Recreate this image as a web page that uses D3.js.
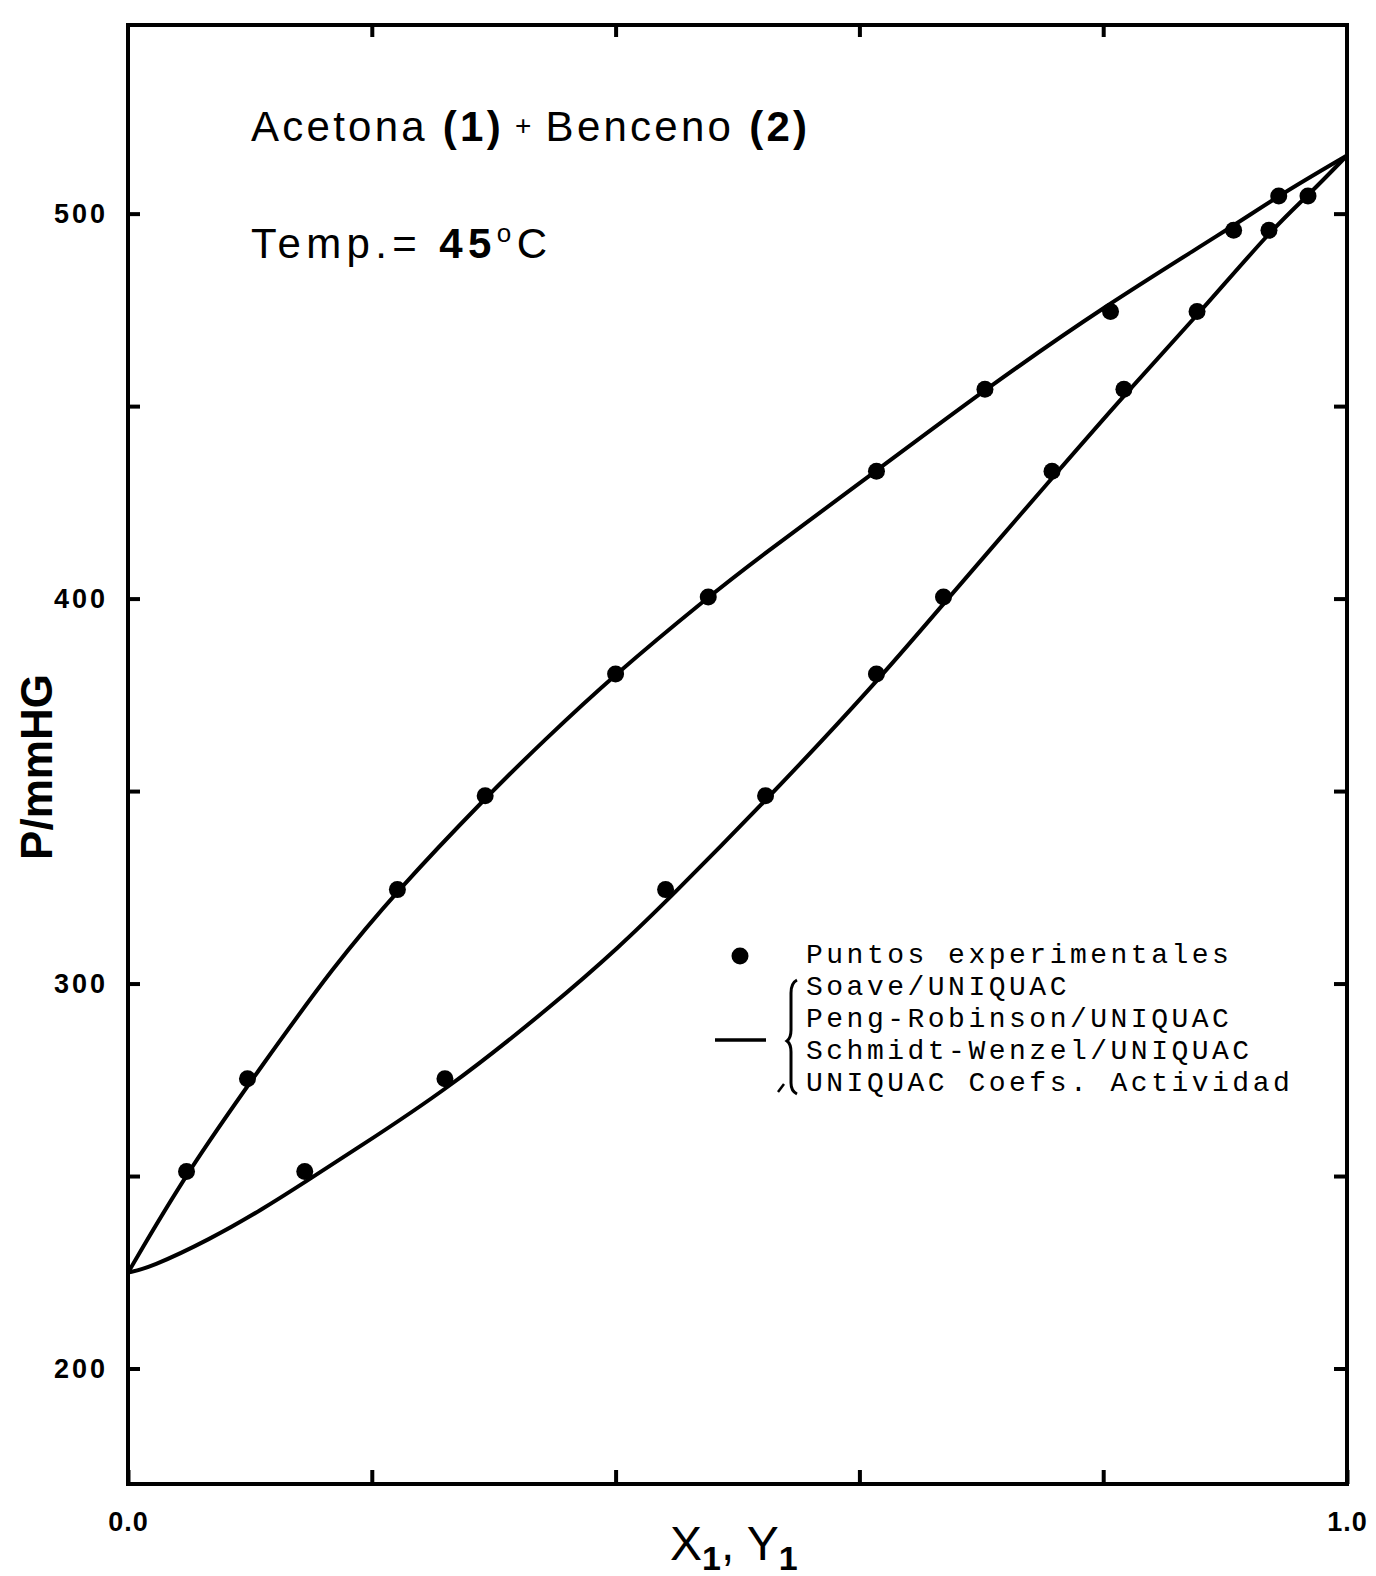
<!DOCTYPE html>
<html>
<head>
<meta charset="utf-8">
<script src="https://cdn.jsdelivr.net/npm/d3@7/dist/d3.min.js"></script>
<style>
  body { margin: 0; background: #fff; }
  svg { display: block; font-family: 'Liberation Sans', Arial, sans-serif; }
</style>
</head>
<body>
<div id="wrapper"></div>
<script>
// experimental points: liquid (x1) and vapour (y1) measured at the same pressure
const expPressure = [251.2, 275.3, 324.4, 348.8, 380.4, 400.4, 433.1, 454.4, 474.6, 495.7, 504.6];
const expX1 = [0.048, 0.098, 0.221, 0.293, 0.400, 0.476, 0.614, 0.703, 0.806, 0.907, 0.944];
const expY1 = [0.145, 0.260, 0.441, 0.523, 0.614, 0.669, 0.758, 0.817, 0.877, 0.936, 0.968];

// calculated curves (bubble line P-x1, dew line P-y1)
const bubbleX = [0, 0.048, 0.111, 0.168, 0.221, 0.294, 0.340, 0.400, 0.476, 0.516, 0.614, 0.702, 0.801, 0.903, 0.945, 1];
const bubbleP = [224.9, 250.9, 279.2, 304.2, 324.2, 348.5, 362.8, 380.5, 400.4, 410.3, 433.2, 454.1, 476.0, 496.0, 504.9, 515.1];
const dewX = [0, 0.018, 0.067, 0.111, 0.145, 0.185, 0.262, 0.349, 0.404, 0.443, 0.523, 0.614, 0.669, 0.758, 0.817, 0.878, 0.938, 0.969, 1];
const dewP = [224.9, 226.2, 233.5, 241.5, 248.4, 256.6, 272.5, 294.5, 309.8, 321.8, 347.4, 378.2, 398.7, 431.3, 452.8, 473.8, 495.9, 505.0, 515.1];

// ticks
const yTicks = [200, 250, 300, 350, 400, 450, 500];
const yLabels = [200, 300, 400, 500];
const xTicks = [0.2, 0.4, 0.6, 0.8];
const xLabels = [0, 1];

const legendModels = [
  'Soave/UNIQUAC',
  'Peng-Robinson/UNIQUAC',
  'Schmidt-Wenzel/UNIQUAC',
  'UNIQUAC Coefs. Actividad',
];

function drawChart() {
  /* CHART DIMENSIONS */
  const dimensions = {
    width: 1376,
    height: 1576,
    margin: { top: 25, right: 29, bottom: 92, left: 128 },
  };
  dimensions.boundedWidth =
    dimensions.width - (dimensions.margin.left + dimensions.margin.right);
  dimensions.boundedHeight =
    dimensions.height - (dimensions.margin.top + dimensions.margin.bottom);

  /* SCALES */
  const xScale = d3.scaleLinear().domain([0, 1]).range([0, dimensions.boundedWidth]);
  const yScale = d3.scaleLinear().domain([170, 549]).range([dimensions.boundedHeight, 0]);

  const wrapper = d3
    .select('#wrapper')
    .append('svg')
    .attr('width', dimensions.width)
    .attr('height', dimensions.height);

  const bounds = wrapper
    .append('g')
    .attr('transform', `translate(${dimensions.margin.left},${dimensions.margin.top})`);

  /* DRAW DATA */
  const lineGenerator = d3
    .line()
    .x(d => xScale(d[0]))
    .y(d => yScale(d[1]))
    .curve(d3.curveBasis);

  const curves = [d3.zip(bubbleX, bubbleP), d3.zip(dewX, dewP)];
  bounds
    .selectAll('path.model')
    .data(curves)
    .join('path')
    .attr('class', 'model')
    .attr('d', lineGenerator)
    .attr('fill', 'none')
    .attr('stroke', '#000')
    .attr('stroke-width', 4)
    .attr('stroke-linejoin', 'round');

  const points = [
    ...d3.zip(expX1, expPressure),
    ...d3.zip(expY1, expPressure),
  ];
  bounds
    .selectAll('circle.exp')
    .data(points)
    .join('circle')
    .attr('class', 'exp')
    .attr('r', 8.5)
    .attr('cx', d => xScale(d[0]))
    .attr('cy', d => yScale(d[1]))
    .attr('fill', '#000');

  /* PERIPHERALS */
  bounds
    .append('rect')
    .attr('width', dimensions.boundedWidth)
    .attr('height', dimensions.boundedHeight)
    .attr('fill', 'none')
    .attr('stroke', '#000')
    .attr('stroke-width', 4);

  const yAxisGenerator = d3
    .axisLeft(yScale)
    .tickValues(yTicks)
    .tickSize(-12)
    .tickPadding(20)
    .tickFormat(d => (yLabels.includes(d) ? d : ''));
  const yAxis = bounds.append('g').call(yAxisGenerator);

  const yRightGenerator = d3.axisRight(yScale).tickValues(yTicks).tickSize(-13).tickFormat('');
  const yRight = bounds
    .append('g')
    .attr('transform', `translate(${dimensions.boundedWidth},0)`)
    .call(yRightGenerator);

  const xTopGenerator = d3.axisTop(xScale).tickValues(xTicks).tickSize(-12).tickFormat('');
  const xTop = bounds.append('g').call(xTopGenerator);

  const xAxisGenerator = d3
    .axisBottom(xScale)
    .tickValues([...xLabels, ...xTicks])
    .tickSize(-14)
    .tickPadding(28)
    .tickFormat(d => (xLabels.includes(d) ? d3.format('.1f')(d) : ''));
  const xAxis = bounds
    .append('g')
    .attr('transform', `translate(0,${dimensions.boundedHeight})`)
    .call(xAxisGenerator);

  [yAxis, yRight, xTop, xAxis].forEach(g => {
    g.select('.domain').remove();
    g.selectAll('.tick line').attr('stroke', '#000').attr('stroke-width', 4);
    g.selectAll('.tick text')
      .attr('fill', '#000')
      .attr('font-family', "'Liberation Sans', Arial, sans-serif")
      .attr('font-weight', 'bold')
      .attr('font-size', 27)
      .attr('letter-spacing', 3);
  });
  xAxis.selectAll('.tick text').attr('font-size', 27).attr('letter-spacing', 1);

  // y axis title
  wrapper
    .append('text')
    .attr('transform', 'translate(52,767) rotate(-90)')
    .attr('text-anchor', 'middle')
    .attr('font-weight', 'bold')
    .attr('font-size', 44)
    .text('P/mmHG');

  // x axis title
  const xTitle = wrapper
    .append('text')
    .attr('x', 670)
    .attr('y', 1560)
    .attr('font-size', 48);
  xTitle.append('tspan').text('X');
  xTitle.append('tspan').attr('dy', 10).attr('font-size', 34).attr('font-weight', 'bold').text('1');
  xTitle.append('tspan').attr('dy', -10).text(', Y');
  xTitle.append('tspan').attr('dy', 10).attr('font-size', 34).attr('font-weight', 'bold').text('1');

  // system annotation
  const title = wrapper
    .append('text')
    .attr('x', 251)
    .attr('y', 141)
    .attr('font-size', 42)
    .attr('textLength', 556)
    .attr('lengthAdjust', 'spacing');
  title.append('tspan').text('Acetona ');
  title.append('tspan').attr('font-weight', 'bold').text('(1)');
  title.append('tspan').attr('font-size', 28).attr('dy', -6).text(' + ');
  title.append('tspan').attr('dy', 6).text('Benceno ');
  title.append('tspan').attr('font-weight', 'bold').text('(2)');

  const temp = wrapper
    .append('text')
    .attr('x', 251)
    .attr('y', 258)
    .attr('font-size', 42)
    .attr('textLength', 296)
    .attr('lengthAdjust', 'spacing');
  temp.append('tspan').text('Temp.= ');
  temp.append('tspan').attr('font-weight', 'bold').text('45');
  temp.append('tspan').attr('font-size', 26).attr('dy', -16).text('o');
  temp.append('tspan').attr('dy', 16).text('C');

  /* LEGEND */
  const legend = wrapper
    .append('g')
    .attr('font-family', "'Liberation Mono', 'DejaVu Sans Mono', monospace")
    .attr('font-size', 28)
    .attr('letter-spacing', 3.5);

  legend.append('circle').attr('cx', 740).attr('cy', 956).attr('r', 8.5).attr('fill', '#000');
  legend.append('text').attr('x', 806).attr('y', 963).text('Puntos experimentales');

  legend
    .selectAll('text.model')
    .data(legendModels)
    .join('text')
    .attr('class', 'model')
    .attr('x', 806)
    .attr('y', (d, i) => 995 + i * 32)
    .text(d => d);

  legend
    .append('line')
    .attr('x1', 715)
    .attr('x2', 766)
    .attr('y1', 1040)
    .attr('y2', 1040)
    .attr('stroke', '#000')
    .attr('stroke-width', 3.5);

  legend
    .append('path')
    .attr('d', 'M797,980 Q791,983 791,993 L791,1030 Q791,1038 787,1041 Q791,1044 791,1052 L791,1083 Q791,1091 797,1094')
    .attr('fill', 'none')
    .attr('stroke', '#000')
    .attr('stroke-width', 3);
  legend
    .append('path')
    .attr('d', 'M778,1092 L784,1084')
    .attr('stroke', '#000')
    .attr('stroke-width', 2.5);
}

drawChart();
</script>
</body>
</html>
